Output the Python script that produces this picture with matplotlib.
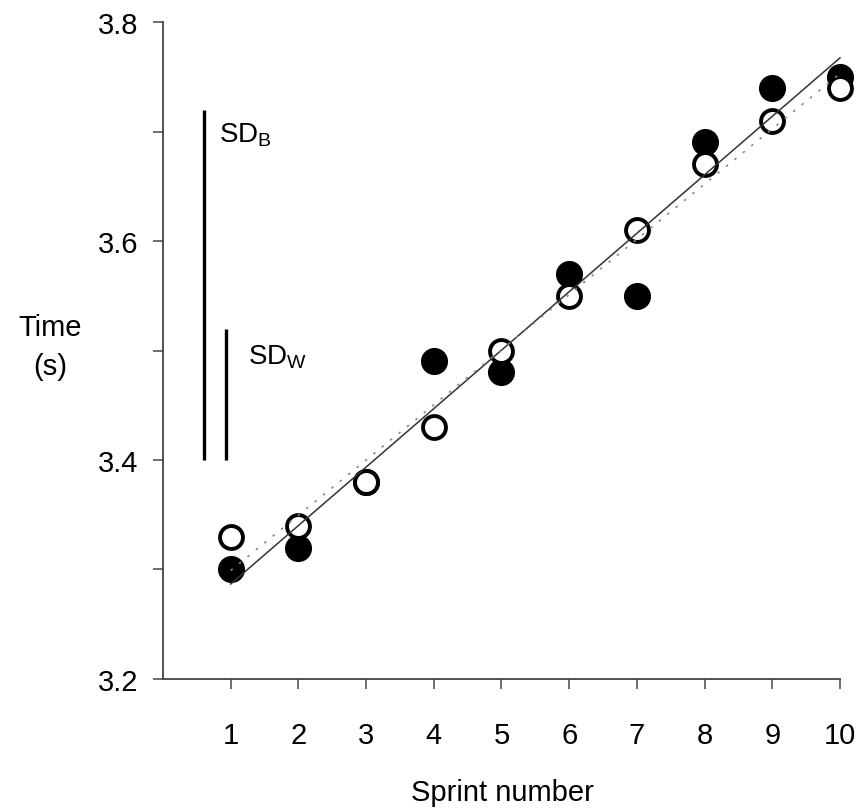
import numpy as np
import matplotlib
matplotlib.use("Agg")
import matplotlib.pyplot as plt

plt.rcParams['font.family'] = ['Liberation Sans', 'DejaVu Sans']

sprint = np.arange(1, 11)
filled_times = [3.30, 3.32, 3.38, 3.49, 3.48, 3.57, 3.55, 3.69, 3.74, 3.75]
open_times = [3.33, 3.34, 3.38, 3.43, 3.50, 3.55, 3.61, 3.67, 3.71, 3.74]
sd_b = 0.32
sd_w = 0.12
sd_base = 3.4
sd_x = [0.6, 0.93]
yticks_major = [3.2, 3.4, 3.6, 3.8]
yticks_minor = [3.3, 3.5, 3.7]

FS = 21

fig = plt.figure(figsize=(8.61, 8.12), dpi=100)
ax = fig.add_axes([0.1893, 0.1626, 0.7863, 0.809])

ax.scatter(sprint, filled_times, s=19.5**2, c='black', zorder=3, linewidths=0, clip_on=False)
ax.scatter(sprint, open_times, s=16.5**2, facecolors='white', edgecolors='black',
           linewidths=2.8, zorder=4, clip_on=False)

# regression lines
p_f = np.polyfit(sprint, filled_times, 1)
p_o = np.polyfit(sprint, open_times, 1)
xx = np.array([1, 10])
ax.plot(xx, np.polyval(p_f, xx), color='#333333', lw=1.1, zorder=5, clip_on=False)
ax.plot(xx, np.polyval(p_o, xx), color='#888888', lw=1.2, ls=(0, (1.5, 5)), zorder=5, clip_on=False)

# SD bars
ax.plot([sd_x[0], sd_x[0]], [sd_base, sd_base + sd_b], color='black', lw=2.4, solid_capstyle='butt')
ax.plot([sd_x[1], sd_x[1]], [sd_base, sd_base + sd_w], color='black', lw=2.4, solid_capstyle='butt')
ax.text(sd_x[0] + 0.22, sd_base + sd_b - 0.022, r'SD$_\mathregular{B}$', fontsize=FS - 1, va='center', ha='left')
ax.text(sd_x[1] + 0.33, sd_base + sd_w - 0.025, r'SD$_\mathregular{W}$', fontsize=FS - 1, va='center', ha='left')

ax.set_xlim(0, 10)
ax.set_ylim(3.2, 3.8)
ax.set_xticks(sprint)
ax.set_xticklabels([str(i) for i in sprint], fontsize=FS)
ax.set_yticks(yticks_major)
ax.set_yticklabels([f'{v:.1f}' for v in yticks_major], fontsize=FS)
ax.set_yticks(yticks_minor, minor=True)
ax.tick_params(axis='both', which='both', direction='out', length=7, width=1.2, color='#555555')
ax.tick_params(axis='x', pad=23)
ax.tick_params(axis='y', pad=11)

for s in ['top', 'right']:
    ax.spines[s].set_visible(False)
for s in ['left', 'bottom']:
    ax.spines[s].set_linewidth(1.3)
    ax.spines[s].set_color('#444444')

fig.text(0.058, 0.572, 'Time\n(s)', fontsize=FS, ha='center', va='center', linespacing=1.5)
fig.text(0.583, 0.0234, 'Sprint number', fontsize=FS, ha='center', va='center')

fig.savefig('out.png', dpi=100)
